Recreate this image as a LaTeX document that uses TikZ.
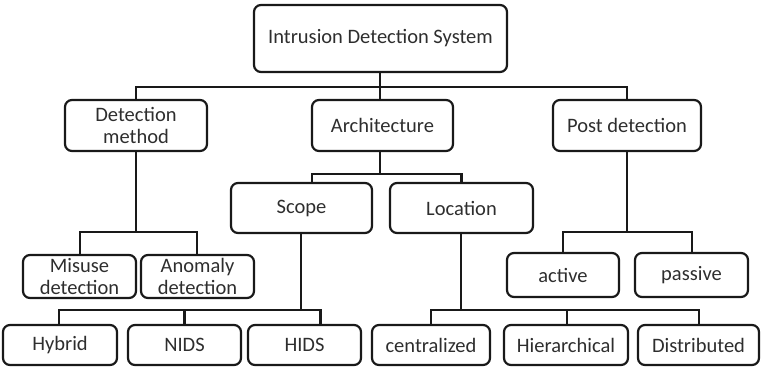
\documentclass[tikz,border=0pt]{standalone}
\usepackage{fontspec}
\setmainfont{Carlito}
\begin{document}
\begin{tikzpicture}[x=1pt,y=-1pt,
  box/.style={draw=black!90, line width=2.2pt, rounded corners=7pt, inner sep=0pt,
    align=center, text=black!82, font=\fontsize{20.5}{22}\selectfont},
  conn/.style={draw=black!90, line width=2.2pt}]
\useasboundingbox (0,0) rectangle (761,367);
\newcommand{\bx}[7]{\node[box, minimum width=#4-#3, minimum height=#6-#5] (#1) at ({(#3+#4)/2},{(#5+#6)/2}) {#7};}
% name, dummy, x1,x2,y1,y2,text
\bx{root}{}{254}{507}{5}{72}{Intrusion Detection System}
\bx{det}{}{65}{207}{100}{151}{Detection\\method}
\bx{arch}{}{312}{453}{100}{151}{Architecture}
\bx{post}{}{553}{701}{100}{151}{Post detection}
\bx{misuse}{}{23}{136}{255}{298}{Misuse\\detection}
\bx{anom}{}{141}{254}{255}{298}{Anomaly\\detection}
\bx{scope}{}{231}{372}{183}{233}{Scope}
\bx{loc}{}{390}{533}{183}{233}{Location}
\bx{active}{}{507}{619}{253}{297}{active}
\bx{passive}{}{635}{748}{253}{297}{passive}
\bx{hybrid}{}{3}{117}{325}{365}{Hybrid}
\bx{nids}{}{128}{241}{325}{365}{NIDS}
\bx{hids}{}{248}{361}{325}{365}{HIDS}
\bx{cent}{}{372}{490}{325}{365}{centralized}
\bx{hier}{}{504}{628}{325}{365}{Hierarchical}
\bx{dist}{}{638}{759}{325}{365}{Distributed}
% buses
\coordinate (b1) at (380,87);
\coordinate (b2) at (136,232);
\coordinate (b3) at (380,174);
\coordinate (b4) at (301,310);
\coordinate (b5) at (461,310);
\coordinate (b6) at (627,232);
\draw[conn] ([xshift=-0.5]root.south) -- ([xshift=-2.5]arch.north);
\draw[conn] (det.north) |- (b1) -| (post.north);
\draw[conn] (det.south) -- (b2);
\draw[conn] ([xshift=0.5]misuse.north) |- (b2) -| ([xshift=-0.5]anom.north);
\draw[conn] ([xshift=-2.5]arch.south) -- (b3);
\draw[conn] ([xshift=10.5]scope.north) |- (b3) -| (loc.north);
\draw[conn] ([xshift=-0.5]scope.south) -- (b4);
\draw[conn] ([xshift=-1]hybrid.north) |- (b4) -| ([xshift=16]hids.north);
\draw[conn] (nids.north) -- (nids.north |- b4);
\draw[conn] ([xshift=-0.5]loc.south) -- (b5);
\draw[conn] (cent.north) |- (b5) -| ([xshift=0.5]dist.north);
\draw[conn] ([xshift=1]hier.north) -- ([xshift=1]hier.north |- b5);
\draw[conn] (post.south) -- (b6);
\draw[conn] (active.north) |- (b6) -| ([xshift=0.5]passive.north);
\end{tikzpicture}
\end{document}
